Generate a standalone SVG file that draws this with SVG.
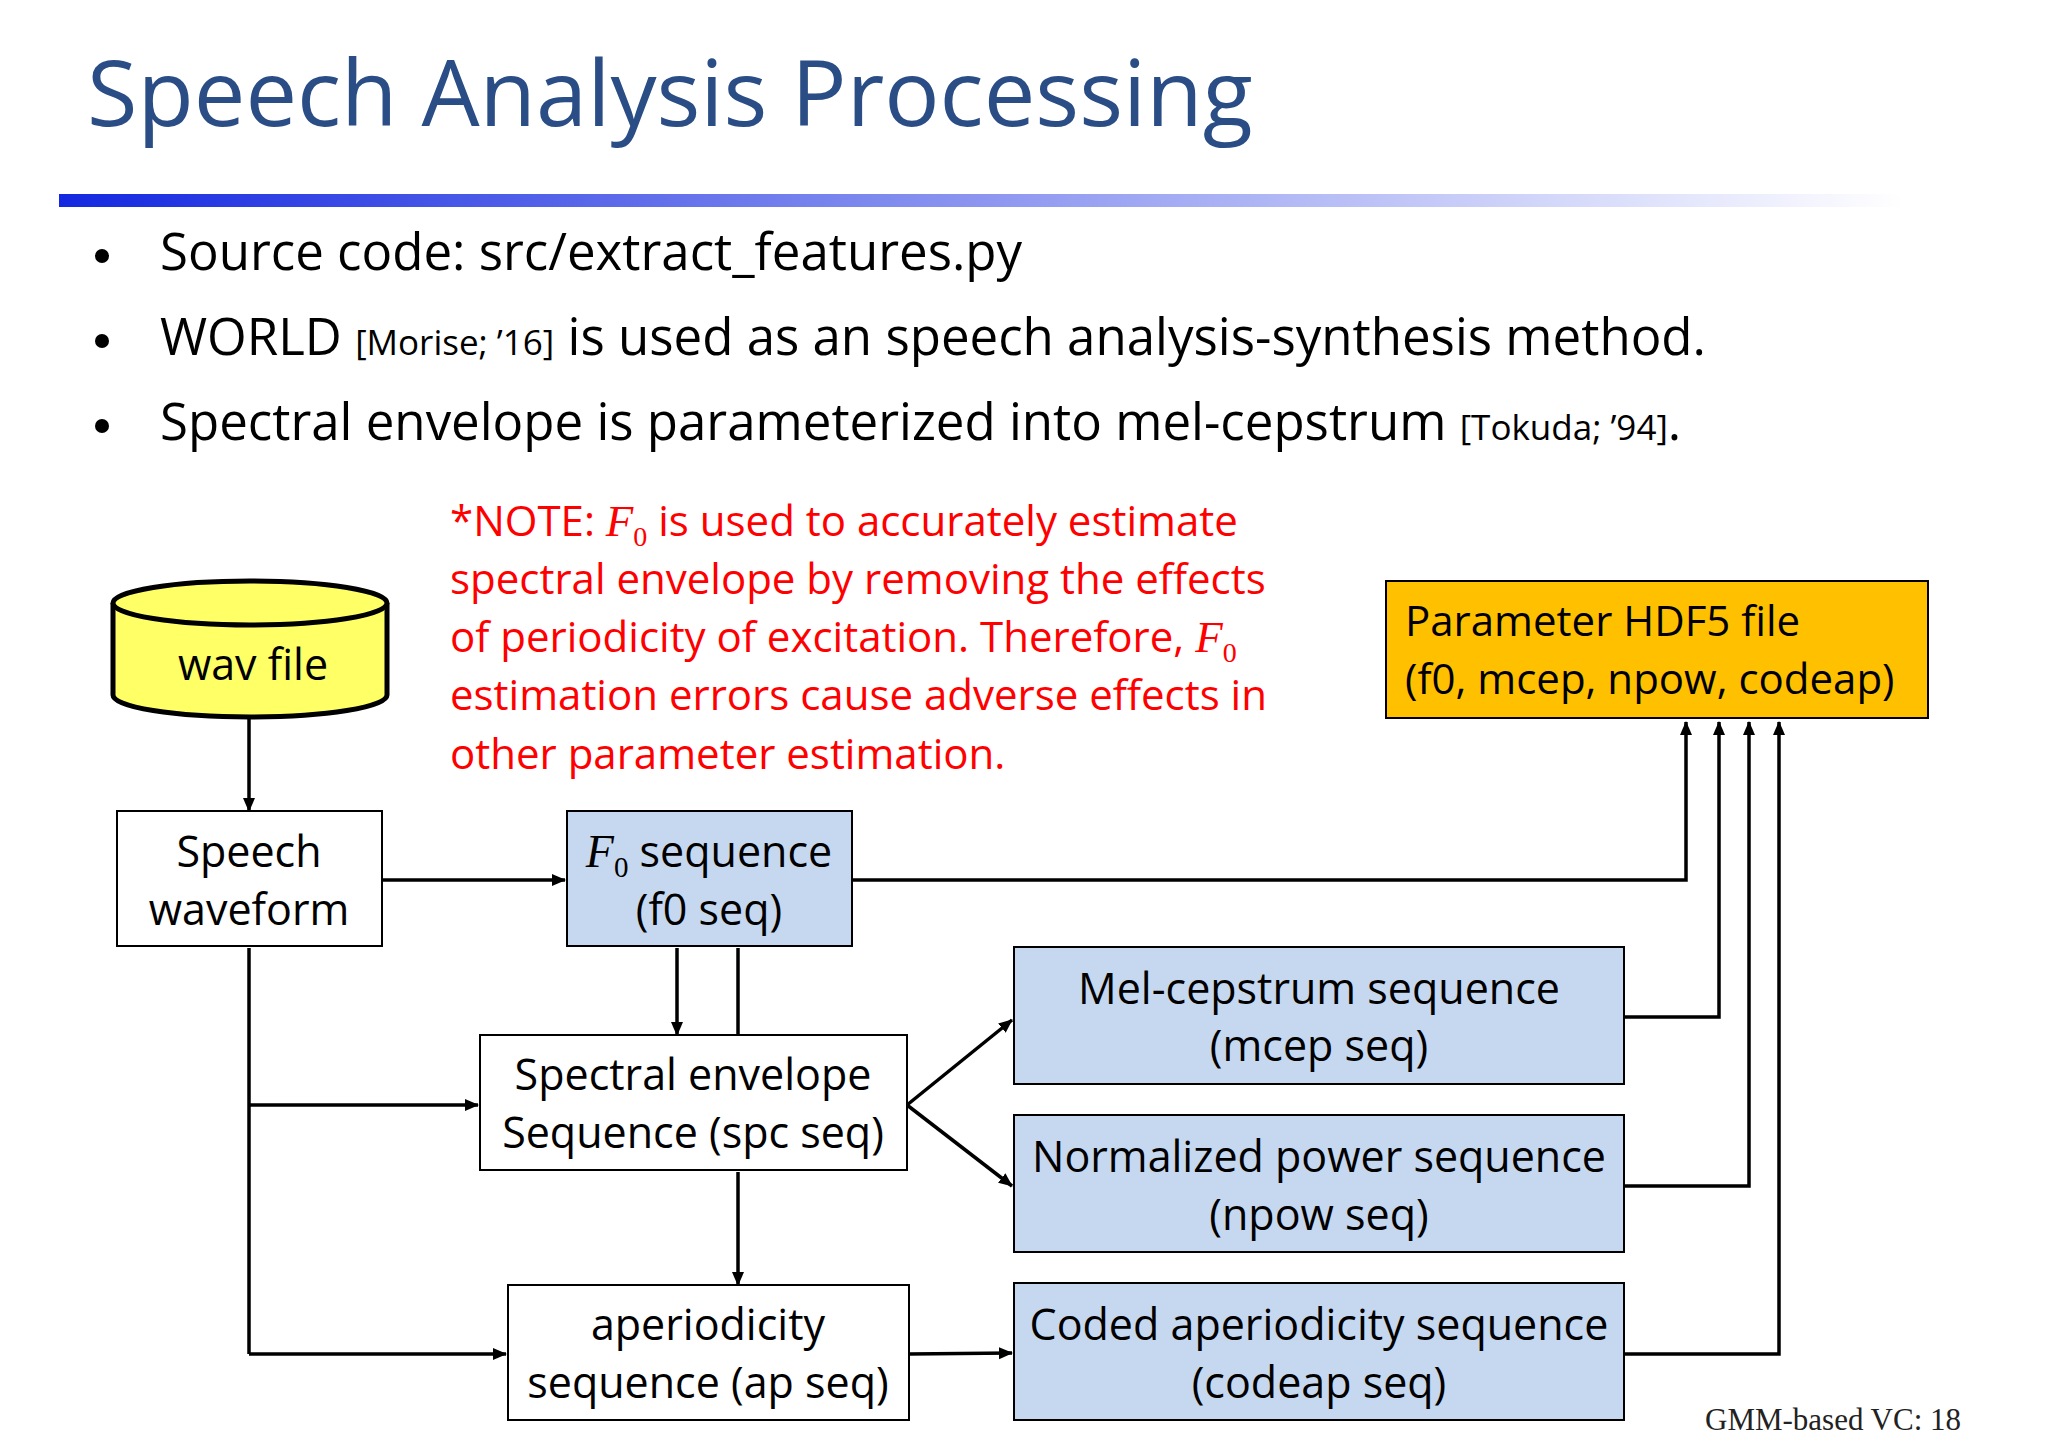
<svg xmlns="http://www.w3.org/2000/svg" width="2048" height="1448" viewBox="0 0 2048 1448">
<defs>
<linearGradient id="bar" x1="0" x2="1" y1="0" y2="0"><stop offset="0" stop-color="#1428e0"/><stop offset="0.5" stop-color="#8c96f0"/><stop offset="1" stop-color="#ffffff"/></linearGradient>
<marker id="ah" markerWidth="14" markerHeight="14" refX="13" refY="6" orient="auto" markerUnits="userSpaceOnUse"><path d="M0,0 L14,6 L0,12 z" fill="#000"/></marker>
<style>
.t{font-family:"Open Sans","Liberation Sans",sans-serif;fill:#000}
.box{stroke:#000;stroke-width:2}
.b{font-size:43px;text-anchor:middle}
.w{fill:#fff}
.bl{fill:#c6d8ef}
.c{fill:none;stroke:#000;stroke-width:3.5}
.a{marker-end:url(#ah)}
.f{font-family:"Liberation Serif",serif;font-style:italic}
.red{fill:#f00;font-size:42px}
</style>
</defs>
<rect width="2048" height="1448" fill="#fff"/>
<text x="87" y="126" class="t" style="font-size:92px;fill:#2a4d86">Speech Analysis Processing</text>
<rect x="59" y="194" width="1845" height="13" fill="url(#bar)"/>
<g class="t" style="font-size:51px">
<circle cx="102" cy="256" r="7" fill="#000"/><circle cx="102" cy="341" r="7" fill="#000"/><circle cx="102" cy="426" r="7" fill="#000"/>
<text x="160" y="270">Source code: src/extract_features.py</text>
<text x="160" y="355">WORLD <tspan style="font-size:35px">[Morise; ’16]</tspan> is used as an speech analysis-synthesis method.</text>
<text x="160" y="440">Spectral envelope is parameterized into mel-cepstrum <tspan style="font-size:35px">[Tokuda; ’94]</tspan>.</text>
</g>
<g id="note" class="t red">
<text x="450" y="536">*NOTE: <tspan class="f" style="font-size:45px">F</tspan><tspan class="f" style="font-style:normal;font-size:28px" dy="10">0</tspan><tspan dy="-10"> is used to accurately estimate</tspan></text>
<text x="450" y="594">spectral envelope by removing the effects</text>
<text x="450" y="652">of periodicity of excitation.  Therefore, <tspan class="f" style="font-size:45px">F</tspan><tspan class="f" style="font-style:normal;font-size:28px" dy="10">0</tspan></text>
<text x="450" y="710">estimation errors cause adverse effects in</text>
<text x="450" y="769">other parameter estimation.</text>
</g>
<g id="connectors">
<path class="c a" d="M249,719 V811"/>
<path class="c a" d="M382,880 H565"/>
<path class="c a" d="M852,880 H1686 V722"/>
<path class="c a" d="M1624,1017 H1719 V722"/>
<path class="c a" d="M1624,1186 H1749 V722"/>
<path class="c a" d="M1624,1354 H1779 V722"/>
<path class="c a" d="M677,948 V1035"/>
<path class="c" d="M738,948 V1037"/>
<path class="c a" d="M738,1172 V1285"/>
<path class="c" d="M249,948 V1354"/>
<path class="c a" d="M249,1105 H478"/>
<path class="c a" d="M249,1354 H506"/>
<path class="c a" d="M907,1105 L1012,1020"/>
<path class="c a" d="M907,1105 L1012,1186"/>
<path class="c a" d="M909,1354 L1012,1353"/>
</g>
<g id="wav">
<path d="M113,603 V695 A137,22 0 0 0 387,695 V603" fill="#ffff66" stroke="#000" stroke-width="5"/>
<ellipse cx="250" cy="603" rx="137" ry="22" fill="#ffff66" stroke="#000" stroke-width="5"/>
<text x="253" y="680" class="t b">wav file</text>
</g>
<g id="speech"><rect x="117" y="811" width="265" height="135" class="box w"/><text class="t b" x="249" y="867">Speech</text><text class="t b" x="249" y="925">waveform</text></g>
<g id="f0"><rect x="567" y="811" width="285" height="135" class="box bl"/><text class="t b" x="709" y="867"><tspan class="f" style="font-size:46px">F</tspan><tspan class="f" style="font-style:normal;font-size:29px" dy="10">0</tspan><tspan dy="-10"> sequence</tspan></text><text class="t b" x="709" y="925">(f0 seq)</text></g>
<g id="spc"><rect x="480" y="1035" width="427" height="135" class="box w"/><text class="t b" x="693" y="1090">Spectral envelope</text><text class="t b" x="693" y="1148">Sequence (spc seq)</text></g>
<g id="ap"><rect x="508" y="1285" width="401" height="135" class="box w"/><text class="t b" x="708" y="1340">aperiodicity</text><text class="t b" x="708" y="1398">sequence (ap seq)</text></g>
<g id="mcep"><rect x="1014" y="947" width="610" height="137" class="box bl"/><text class="t b" x="1319" y="1004">Mel-cepstrum sequence</text><text class="t b" x="1319" y="1061">(mcep seq)</text></g>
<g id="npow"><rect x="1014" y="1115" width="610" height="137" class="box bl"/><text class="t b" x="1319" y="1172">Normalized power sequence</text><text class="t b" x="1319" y="1230">(npow seq)</text></g>
<g id="codeap"><rect x="1014" y="1283" width="610" height="137" class="box bl"/><text class="t b" x="1319" y="1340">Coded aperiodicity sequence</text><text class="t b" x="1319" y="1398">(codeap seq)</text></g>
<g id="hdf5"><rect x="1386" y="581" width="542" height="137" class="box" fill="#ffc000"/><text class="t" style="font-size:42px" x="1405" y="636">Parameter HDF5 file</text><text class="t" style="font-size:42px" x="1405" y="694">(f0, mcep, npow, codeap)</text></g>
<text x="1705" y="1430" style="font-family:'Liberation Serif',serif;font-size:31px;fill:#222">GMM-based VC: 18</text>
</svg>
